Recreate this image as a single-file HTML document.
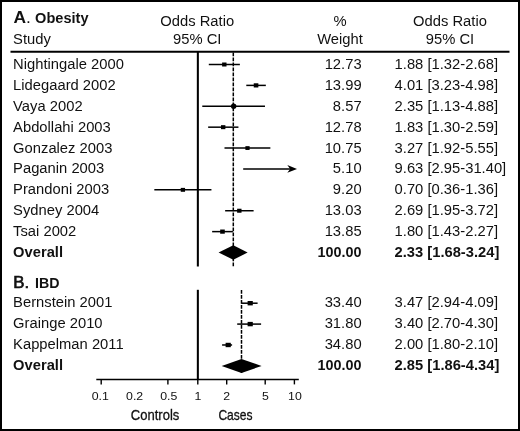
<!DOCTYPE html>
<html><head><meta charset="utf-8"><title>Forest plot</title>
<style>
html,body{margin:0;padding:0;background:#fff;}
body{width:520px;height:431px;overflow:hidden;position:relative;font-family:"Liberation Sans",sans-serif;}
#frame{position:absolute;left:0;top:0;width:516px;height:427px;border:2px solid #000;background:#fff;}
svg{position:absolute;left:0;top:0;will-change:transform;}
text{font-family:"Liberation Sans",sans-serif;fill:#111;}
.r{font-size:15px;}
.b{font-size:14.6px;font-weight:bold;}
.t{font-size:11px;}
</style></head><body>
<div id="frame"></div>
<svg width="520" height="431" viewBox="0 0 520 431">

<text x="13.5" y="23.4" style="font-size:17.4px;font-weight:bold">A<tspan style="font-weight:normal">.</tspan></text>
<text transform="translate(35.10 23.40) scale(0.985 1)" class="b" text-anchor="start" style="font-size:14.8px">Obesity</text>
<text transform="translate(13.10 44.40) scale(0.985 1)" class="r" text-anchor="start">Study</text>
<text transform="translate(197.20 25.80) scale(0.985 1)" class="r" text-anchor="middle">Odds Ratio</text>
<text transform="translate(197.20 43.80) scale(0.985 1)" class="r" text-anchor="middle">95% CI</text>
<text transform="translate(340.00 25.80) scale(0.985 1)" class="r" text-anchor="middle">%</text>
<text transform="translate(340.00 43.80) scale(0.985 1)" class="r" text-anchor="middle">Weight</text>
<text transform="translate(450.00 25.80) scale(0.985 1)" class="r" text-anchor="middle">Odds Ratio</text>
<text transform="translate(450.00 43.80) scale(0.985 1)" class="r" text-anchor="middle">95% CI</text>
<line x1="10.5" y1="51.8" x2="509.5" y2="51.8" stroke="#000" stroke-width="1.9"/>
<line x1="197.85" y1="51.7" x2="197.85" y2="266.5" stroke="#000" stroke-width="2.05"/>
<line x1="233.30" y1="52.5" x2="233.30" y2="266.8" stroke="#000" stroke-width="1.5" stroke-dasharray="3.7 1.3"/>
<text transform="translate(13.10 69.00) scale(0.985 1)" class="r" text-anchor="start">Nightingale 2000</text>
<text transform="translate(361.60 69.00) scale(0.985 1)" class="r" text-anchor="end">12.73</text>
<text transform="translate(394.60 69.00) scale(0.985 1)" class="r" text-anchor="start">1.88 [1.32-2.68]</text>
<line x1="208.79" y1="64.50" x2="239.87" y2="64.50" stroke="#000" stroke-width="1.5"/>
<rect x="222.11" y="62.50" width="4.4" height="4.0" fill="#000"/>
<text transform="translate(13.10 89.89) scale(0.985 1)" class="r" text-anchor="start">Lidegaard 2002</text>
<text transform="translate(361.60 89.89) scale(0.985 1)" class="r" text-anchor="end">13.99</text>
<text transform="translate(394.60 89.89) scale(0.985 1)" class="r" text-anchor="start">4.01 [3.23-4.98]</text>
<line x1="246.29" y1="85.39" x2="265.83" y2="85.39" stroke="#000" stroke-width="1.5"/>
<rect x="253.75" y="83.29" width="4.6" height="4.199999999999999" fill="#000"/>
<text transform="translate(13.10 110.78) scale(0.985 1)" class="r" text-anchor="start">Vaya 2002</text>
<text transform="translate(361.60 110.78) scale(0.985 1)" class="r" text-anchor="end">8.57</text>
<text transform="translate(394.60 110.78) scale(0.985 1)" class="r" text-anchor="start">2.35 [1.13-4.88]</text>
<line x1="202.27" y1="106.28" x2="264.98" y2="106.28" stroke="#000" stroke-width="1.5"/>
<circle cx="233.66" cy="106.28" r="2.7" fill="#000"/>
<text transform="translate(13.10 131.67) scale(0.985 1)" class="r" text-anchor="start">Abdollahi 2003</text>
<text transform="translate(361.60 131.67) scale(0.985 1)" class="r" text-anchor="end">12.78</text>
<text transform="translate(394.60 131.67) scale(0.985 1)" class="r" text-anchor="start">1.83 [1.30-2.59]</text>
<line x1="208.15" y1="127.17" x2="238.43" y2="127.17" stroke="#000" stroke-width="1.5"/>
<rect x="220.98" y="125.17" width="4.4" height="4.0" fill="#000"/>
<text transform="translate(13.10 152.56) scale(0.985 1)" class="r" text-anchor="start">Gonzalez 2003</text>
<text transform="translate(361.60 152.56) scale(0.985 1)" class="r" text-anchor="end">10.75</text>
<text transform="translate(394.60 152.56) scale(0.985 1)" class="r" text-anchor="start">3.27 [1.92-5.55]</text>
<line x1="224.49" y1="148.06" x2="270.37" y2="148.06" stroke="#000" stroke-width="1.5"/>
<rect x="245.40" y="146.16" width="4.2" height="3.8000000000000003" fill="#000"/>
<text transform="translate(13.10 173.45) scale(0.985 1)" class="r" text-anchor="start">Paganin 2003</text>
<text transform="translate(361.60 173.45) scale(0.985 1)" class="r" text-anchor="end">5.10</text>
<text transform="translate(394.60 173.45) scale(0.985 1)" class="r" text-anchor="start">9.63 [2.95-31.40]</text>
<line x1="243.19" y1="168.95" x2="291" y2="168.95" stroke="#000" stroke-width="1.4"/>
<path d="M297 168.95 L287.3 165.05 L290.2 168.95 L287.3 172.85 Z" fill="#000"/>
<text transform="translate(13.10 194.34) scale(0.985 1)" class="r" text-anchor="start">Prandoni 2003</text>
<text transform="translate(361.60 194.34) scale(0.985 1)" class="r" text-anchor="end">9.20</text>
<text transform="translate(394.60 194.34) scale(0.985 1)" class="r" text-anchor="start">0.70 [0.36-1.36]</text>
<line x1="154.33" y1="189.84" x2="211.44" y2="189.84" stroke="#000" stroke-width="1.5"/>
<rect x="180.75" y="187.89" width="4.3" height="3.9" fill="#000"/>
<text transform="translate(13.10 215.23) scale(0.985 1)" class="r" text-anchor="start">Sydney 2004</text>
<text transform="translate(361.60 215.23) scale(0.985 1)" class="r" text-anchor="end">13.03</text>
<text transform="translate(394.60 215.23) scale(0.985 1)" class="r" text-anchor="start">2.69 [1.95-3.72]</text>
<line x1="225.14" y1="210.73" x2="253.61" y2="210.73" stroke="#000" stroke-width="1.5"/>
<rect x="237.12" y="208.73" width="4.4" height="4.0" fill="#000"/>
<text transform="translate(13.10 236.12) scale(0.985 1)" class="r" text-anchor="start">Tsai 2002</text>
<text transform="translate(361.60 236.12) scale(0.985 1)" class="r" text-anchor="end">13.85</text>
<text transform="translate(394.60 236.12) scale(0.985 1)" class="r" text-anchor="start">1.80 [1.43-2.27]</text>
<line x1="212.14" y1="231.62" x2="232.91" y2="231.62" stroke="#000" stroke-width="1.5"/>
<rect x="220.18" y="229.52" width="4.6" height="4.199999999999999" fill="#000"/>
<text transform="translate(13.10 257.01) scale(0.985 1)" class="b" text-anchor="start" style="font-size:14.95px">Overall</text>
<text transform="translate(361.60 257.01) scale(0.985 1)" class="b" text-anchor="end">100.00</text>
<text transform="translate(394.60 257.01) scale(0.985 1)" class="b" text-anchor="start" style="font-size:14.95px">2.33 [1.68-3.24]</text>
<path d="M218.59 252.51 L233.30 245.21 L247.62 252.51 L233.30 259.81 Z" fill="#000"/>
<text x="13.3" y="288" style="font-size:16.8px;stroke:#111;stroke-width:0.65px">B.</text>
<text x="35" y="288" style="font-size:14.2px;font-weight:bold">IBD</text>
<line x1="197.85" y1="289.8" x2="197.85" y2="379.5" stroke="#000" stroke-width="2.05"/>
<line x1="241.5" y1="290" x2="241.5" y2="373" stroke="#000" stroke-width="1.5" stroke-dasharray="3.7 1.3"/>
<text transform="translate(13.10 307.40) scale(0.985 1)" class="r" text-anchor="start">Bernstein 2001</text>
<text transform="translate(361.60 307.40) scale(0.985 1)" class="r" text-anchor="end">33.40</text>
<text transform="translate(394.60 307.40) scale(0.985 1)" class="r" text-anchor="start">3.47 [2.94-4.09]</text>
<line x1="241.4" y1="303.20" x2="257.6" y2="303.20" stroke="#000" stroke-width="1.5"/>
<rect x="247.60" y="301.00" width="5.2" height="4.4" fill="#000"/>
<text transform="translate(13.10 328.29) scale(0.985 1)" class="r" text-anchor="start">Grainge 2010</text>
<text transform="translate(361.60 328.29) scale(0.985 1)" class="r" text-anchor="end">31.80</text>
<text transform="translate(394.60 328.29) scale(0.985 1)" class="r" text-anchor="start">3.40 [2.70-4.30]</text>
<line x1="237.2" y1="324.09" x2="261.1" y2="324.09" stroke="#000" stroke-width="1.5"/>
<rect x="247.60" y="321.89" width="5.2" height="4.4" fill="#000"/>
<text transform="translate(13.10 349.18) scale(0.985 1)" class="r" text-anchor="start">Kappelman 2011</text>
<text transform="translate(361.60 349.18) scale(0.985 1)" class="r" text-anchor="end">34.80</text>
<text transform="translate(394.60 349.18) scale(0.985 1)" class="r" text-anchor="start">2.00 [1.80-2.10]</text>
<line x1="222.1" y1="344.98" x2="232.1" y2="344.98" stroke="#000" stroke-width="1.5"/>
<rect x="225.60" y="342.78" width="5.2" height="4.4" fill="#000"/>
<text transform="translate(13.10 370.07) scale(0.985 1)" class="b" text-anchor="start" style="font-size:14.95px">Overall</text>
<text transform="translate(361.60 370.07) scale(0.985 1)" class="b" text-anchor="end">100.00</text>
<text transform="translate(394.60 370.07) scale(0.985 1)" class="b" text-anchor="start" style="font-size:14.95px">2.85 [1.86-4.34]</text>
<path d="M221.7 365.97 L241.5 358.97 L261.6 365.97 L241.5 372.97 Z" fill="#000"/>
<line x1="96.3" y1="379.5" x2="298.8" y2="379.5" stroke="#000" stroke-width="1.6"/>
<line x1="101.2" y1="379.5" x2="101.2" y2="384.4" stroke="#000" stroke-width="1.4"/>
<line x1="167.9" y1="379.5" x2="167.9" y2="384.4" stroke="#000" stroke-width="1.4"/>
<line x1="197.8" y1="379.5" x2="197.8" y2="384.4" stroke="#000" stroke-width="1.4"/>
<line x1="226.7" y1="379.5" x2="226.7" y2="384.4" stroke="#000" stroke-width="1.4"/>
<line x1="265.2" y1="379.5" x2="265.2" y2="384.4" stroke="#000" stroke-width="1.4"/>
<line x1="294.4" y1="379.5" x2="294.4" y2="384.4" stroke="#000" stroke-width="1.4"/>
<text transform="translate(100.3 399.7) scale(1.12 1)" class="t" text-anchor="middle">0.1</text>
<text transform="translate(134.6 399.7) scale(1.12 1)" class="t" text-anchor="middle">0.2</text>
<text transform="translate(168.8 399.7) scale(1.12 1)" class="t" text-anchor="middle">0.5</text>
<text transform="translate(197.8 399.7) scale(1.12 1)" class="t" text-anchor="middle">1</text>
<text transform="translate(226.7 399.7) scale(1.12 1)" class="t" text-anchor="middle">2</text>
<text transform="translate(265.4 399.7) scale(1.12 1)" class="t" text-anchor="middle">5</text>
<text transform="translate(294.9 399.7) scale(1.12 1)" class="t" text-anchor="middle">10</text>
<text transform="translate(130.8 419.7) scale(0.882 1)" x="0" y="0" style="font-size:14.8px;stroke:#111;stroke-width:0.3px">Controls</text>
<text transform="translate(218.4 419.7) scale(0.815 1)" x="0" y="0" style="font-size:14.8px;stroke:#111;stroke-width:0.3px">Cases</text>
</svg></body></html>
